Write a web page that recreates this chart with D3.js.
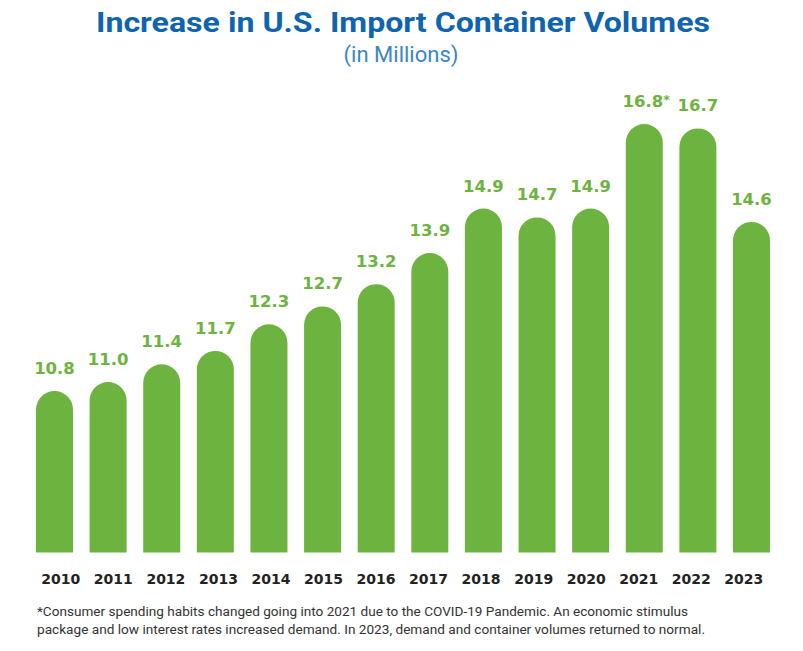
<!DOCTYPE html>
<html>
<head>
<meta charset="utf-8">
<script src="https://cdn.jsdelivr.net/npm/d3@7"></script>
<style>
  html, body { margin: 0; padding: 0; background: #ffffff; }
  svg { display: block; }
</style>
</head>
<body>
<div id="chart"></div>
<script>
// ---- Data ----
const years = ["2010","2011","2012","2013","2014","2015","2016","2017","2018","2019","2020","2021","2022","2023"];
const volumes = [10.8, 11.0, 11.4, 11.7, 12.3, 12.7, 13.2, 13.9, 14.9, 14.7, 14.9, 16.8, 16.7, 14.6];
const valueLabels = ["10.8","11.0","11.4","11.7","12.3","12.7","13.2","13.9","14.9","14.7","14.9","16.8","16.7","14.6"];
const footnoteMarks = ["","","","","","","","","","","","*","",""];
const titleText = "Increase in U.S. Import Container Volumes";
const subtitleText = "(in Millions)";
const footnoteLines = [
  "*Consumer spending habits changed going into 2021 due to the COVID-19 Pandemic. An economic stimulus",
  "package and low interest rates increased demand. In 2023, demand and container volumes returned to normal."
];
const footnoteWidths = [651, 668];

// ---- Layout ----
const W = 803, H = 651;
const baseY = 552.5;
const green = "#6db33f";

const svg = d3.select("#chart").append("svg")
  .attr("width", W).attr("height", H);

const x = d3.scaleBand()
  .domain(years)
  .range([36, 770])
  .paddingInner(0.31)
  .paddingOuter(0);

const xLabel = d3.scalePoint()
  .domain(years)
  .range([60.3, 743.3]);

const y = d3.scaleLinear()
  .domain([7.17, 16.8])
  .range([baseY, 124]);

const data = years.map((yr, i) => ({ year: yr, value: volumes[i], label: valueLabels[i], mark: footnoteMarks[i] }));

// Title
svg.append("text")
  .attr("x", 403).attr("y", 32)
  .attr("text-anchor", "middle")
  .attr("font-family", "Roboto, 'Open Sans', sans-serif")
  .attr("font-weight", 700)
  .attr("font-size", 27)
  .attr("fill", "#0e64ae")
  .attr("textLength", 614)
  .attr("lengthAdjust", "spacingAndGlyphs")
  .text(titleText);

svg.append("text")
  .attr("x", 401).attr("y", 62)
  .attr("text-anchor", "middle")
  .attr("font-family", "Roboto, 'Open Sans', sans-serif")
  .attr("font-weight", 400)
  .attr("font-size", 22)
  .attr("fill", "#3b86c6")
  .text(subtitleText);

// Bars: pill-top shape
function barPath(d) {
  const x0 = x(d.year), w = x.bandwidth(), r = w / 2;
  const top = y(d.value);
  return `M${x0},${baseY} L${x0},${top + r} A${r},${r} 0 0 1 ${x0 + w},${top + r} L${x0 + w},${baseY} Z`;
}

svg.append("g").selectAll("path")
  .data(data)
  .join("path")
  .attr("d", barPath)
  .attr("fill", green);

// Value labels
const vl = svg.append("g").selectAll("text")
  .data(data)
  .join("text")
  .attr("x", d => x(d.year) + x.bandwidth() / 2 + (d.mark ? 2 : 0))
  .attr("y", d => y(d.value) - 17)
  .attr("text-anchor", "middle")
  .attr("font-family", "'DejaVu Sans', sans-serif")
  .attr("font-weight", 700)
  .attr("font-size", 16.5)
  .attr("fill", green);
vl.append("tspan").text(d => d.label);
vl.filter(d => d.mark).append("tspan")
  .attr("font-size", 13)
  .attr("dy", -3)
  .text(d => d.mark);

// Year axis
const axis = svg.append("g")
  .attr("transform", `translate(0, ${baseY})`)
  .call(d3.axisBottom(xLabel).tickSize(0).tickPadding(0));
axis.select(".domain").remove();
axis.selectAll("text")
  .attr("y", 31)
  .attr("dy", 0)
  .attr("font-family", "'DejaVu Sans', sans-serif")
  .attr("font-weight", 700)
  .attr("font-size", 14)
  .attr("fill", "#222222");

// Footnote
svg.append("g").selectAll("text")
  .data(footnoteLines)
  .join("text")
  .attr("x", 37)
  .attr("y", (d, i) => 616 + i * 18)
  .attr("font-family", "Roboto, 'Open Sans', sans-serif")
  .attr("font-size", 12.5)
  .attr("fill", "#333333")
  .attr("textLength", (d, i) => footnoteWidths[i])
  .attr("lengthAdjust", "spacingAndGlyphs")
  .text(d => d);
</script>
</body>
</html>
